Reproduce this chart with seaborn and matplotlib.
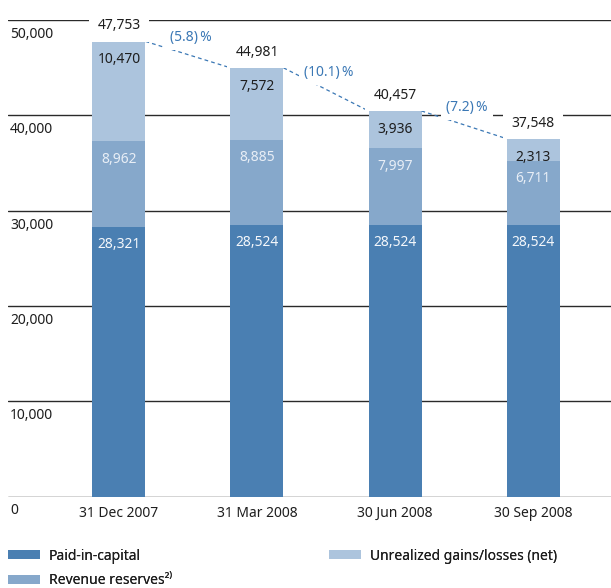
import matplotlib
matplotlib.use('Agg')
import matplotlib.pyplot as plt
import seaborn as sns
import pandas as pd
from matplotlib.patches import Patch

# ---- data ----
dates = ['31 Dec 2007', '31 Mar 2008', '30 Jun 2008', '30 Sep 2008']
paid_in = [28321, 28524, 28524, 28524]
revenue = [8962, 8885, 7997, 6711]
unrealized = [10470, 7572, 3936, 2313]
totals = [47753, 44981, 40457, 37548]
changes = ['(5.8)\u2009%', '(10.1)\u2009%', '(7.2)\u2009%']
yticks = [0, 10000, 20000, 30000, 40000, 50000]
series_names = ['Paid-in-capital', 'Revenue reserves\u00b2\u207e', 'Unrealized gains/losses (net)']

# ---- style ----
C_DARK = '#4a7fb2'
C_MID = '#86a8cb'
C_LIGHT = '#acc4dd'
C_LINE = '#3b78b5'
C_TEXT = '#1e1e1e'

sns.set_theme(style='white')
plt.rcParams['font.family'] = ['Noto Sans', 'DejaVu Sans']
FS = 10

W, H = 611, 588
fig = plt.figure(figsize=(W / 100, H / 100), dpi=100)
ax = fig.add_axes([8 / W, (H - 496.5) / H, 603 / W, 476.5 / H])

df = pd.DataFrame({'date': dates, 'paid': paid_in, 'rev': revenue, 'unr': unrealized})
df['lvl2'] = df['paid'] + df['rev']
df['lvl3'] = df['lvl2'] + df['unr']

BW = 0.384
for col, c in [('lvl3', C_LIGHT), ('lvl2', C_MID), ('paid', C_DARK)]:
    sns.barplot(data=df, x='date', y=col, color=c, saturation=1, width=BW,
                linewidth=0, ax=ax, zorder=2, errorbar=None)

ax.set_xlim(-0.804, 3.565)
ax.set_ylim(0, 50000)
for s in ax.spines.values():
    s.set_visible(False)
ax.set_yticks(yticks)
ax.set_yticklabels([])
ax.grid(axis='y', color='#2a2a2a', lw=1.0, zorder=0)
ax.grid(axis='x', visible=False)
ax.set_axisbelow(True)
ax.tick_params(axis='y', length=0)
ax.tick_params(axis='x', length=0, pad=7, labelsize=FS, labelcolor=C_TEXT)
ax.set_xlabel('')
ax.set_ylabel('')
ax.set_xticks(range(len(dates)))
ax.set_xticklabels(dates)

# y labels below gridlines
for v in yticks:
    ax.annotate(f'{v:,}', xy=(0, v), xycoords=('axes fraction', 'data'),
                xytext=(2, -14.5), textcoords='offset pixels', ha='left', va='center',
                fontsize=FS, color=C_TEXT, annotation_clip=False)

# segment labels
for i in range(len(dates)):
    ax.annotate(f'{paid_in[i]:,}', xy=(i, paid_in[i]), xytext=(0, -17.5),
                textcoords='offset pixels', ha='center', va='center',
                fontsize=FS, color='#f4f7fb', zorder=5)
    ax.annotate(f'{revenue[i]:,}', xy=(i, paid_in[i] + revenue[i]), xytext=(0, -18),
                textcoords='offset pixels', ha='center', va='center',
                fontsize=FS, color='#e8eef6', zorder=5)
    ax.annotate(f'{unrealized[i]:,}', xy=(i, totals[i]), xytext=(0, -18.5),
                textcoords='offset pixels', ha='center', va='center',
                fontsize=FS, color=C_TEXT, zorder=5)
    ax.annotate(f'{totals[i]:,}', xy=(i, totals[i]), xytext=(0, 15.5),
                textcoords='offset pixels', ha='center', va='center',
                fontsize=FS, color=C_TEXT, zorder=5, annotation_clip=False,
                bbox=dict(boxstyle='square,pad=0.6', fc='white', ec='none'))

# dashed connectors and change labels
for i in range(len(dates) - 1):
    x0, y0 = i + BW / 2, totals[i]
    x1, y1 = i + 1 - BW / 2, totals[i + 1]
    ax.plot([x0, x1], [y0, y1], color=C_LINE, lw=0.9, ls=(0, (3, 2.5)),
            zorder=4, clip_on=False)
    ax.annotate(changes[i], xy=((x0 + x1) / 2, (y0 + y1) / 2), xytext=(3, 17),
                textcoords='offset pixels', ha='center', va='center',
                fontsize=FS, color=C_LINE, zorder=5, annotation_clip=False,
                bbox=dict(boxstyle='square,pad=0.35', fc='white', ec='none'))

# legend
leg_items = [(series_names[0], C_DARK, 8, 556),
             (series_names[1], C_MID, 8, 581),
             (series_names[2], C_LIGHT, 329, 556)]
for name, c, xp, yp in leg_items:
    lg = fig.legend(handles=[Patch(facecolor=c, edgecolor='none', label=name)],
                    loc='center left', bbox_to_anchor=(xp / W, 1 - yp / H),
                    frameon=False, fontsize=FS, borderpad=0, borderaxespad=0,
                    handlelength=2.3, handleheight=0.65, handletextpad=0.65,
                    labelcolor=C_TEXT)
    fig.add_artist(lg)

fig.savefig('out.png', dpi=100)
